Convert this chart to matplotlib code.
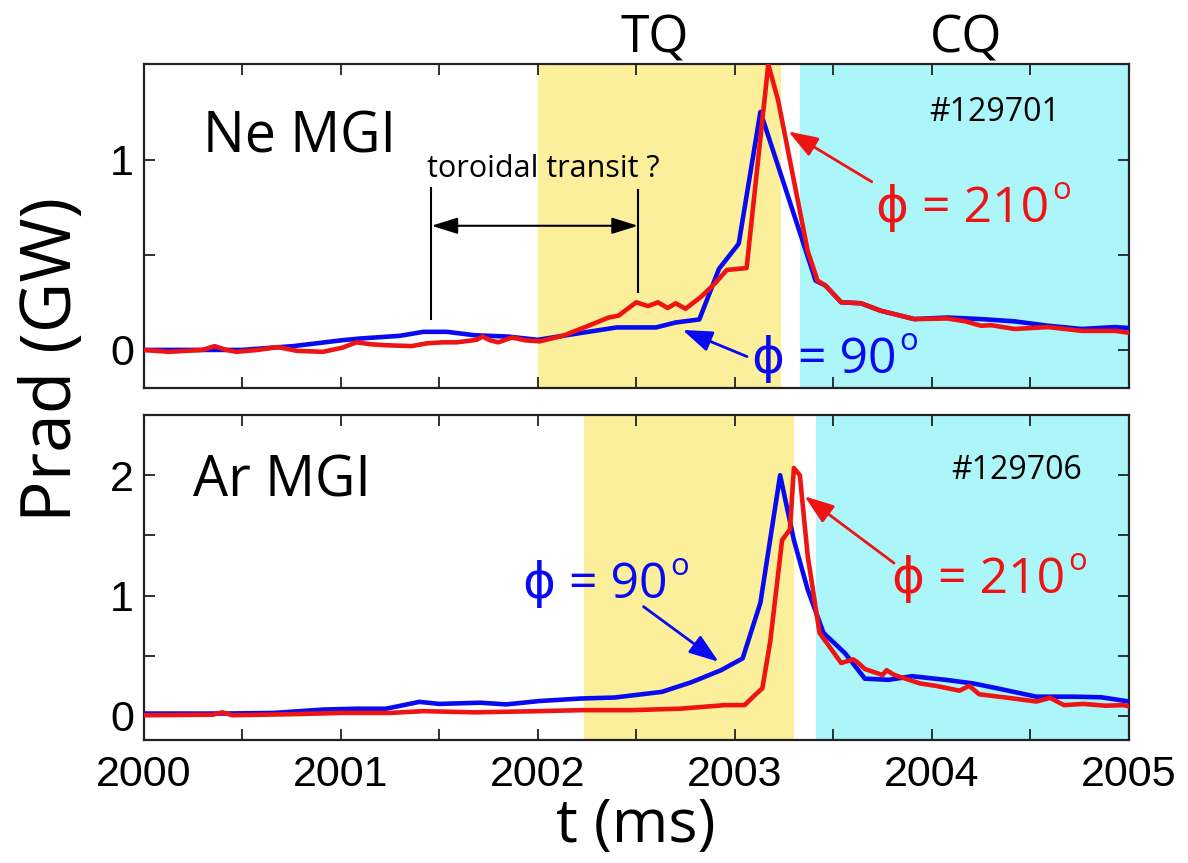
import matplotlib
matplotlib.use("Agg")
import matplotlib.pyplot as plt
import matplotlib.transforms as mtransforms
from matplotlib.ticker import MultipleLocator, FuncFormatter

# ---- data ----
# Ne MGI, shot 129701
t_ne_90 = [2000.0, 2000.3, 2000.5, 2000.76, 2001.0, 2001.1, 2001.3, 2001.42, 2001.54,
           2001.68, 2001.85, 2002.0, 2002.2, 2002.4, 2002.6, 2002.7, 2002.82, 2002.92,
           2003.02, 2003.13, 2003.41, 2003.46, 2003.54, 2003.64, 2003.74, 2003.91,
           2004.08, 2004.25, 2004.42, 2004.59, 2004.76, 2004.93, 2005.0]
p_ne_90 = [0.0, 0.0, 0.0, 0.02, 0.05, 0.06, 0.074, 0.095, 0.095,
           0.077, 0.07, 0.053, 0.086, 0.118, 0.118, 0.144, 0.16, 0.426,
           0.558, 1.25, 0.364, 0.338, 0.25, 0.245, 0.206, 0.162,
           0.17, 0.162, 0.15, 0.127, 0.11, 0.12, 0.115]

t_ne_210 = [2000.0, 2000.13, 2000.3, 2000.36, 2000.42, 2000.47, 2000.58, 2000.68, 2000.78,
            2000.91, 2001.01, 2001.08, 2001.15, 2001.22, 2001.36, 2001.44, 2001.52, 2001.59,
            2001.69, 2001.72, 2001.76, 2001.8, 2001.87, 2001.94, 2002.01, 2002.13, 2002.26,
            2002.36, 2002.41, 2002.5, 2002.56, 2002.61, 2002.66, 2002.7, 2002.75, 2002.83,
            2002.9, 2002.96, 2003.06, 2003.17, 2003.22, 2003.37, 2003.42, 2003.46, 2003.54,
            2003.64, 2003.74, 2003.91, 2004.08, 2004.17, 2004.25, 2004.3, 2004.42, 2004.59,
            2004.76, 2004.93, 2005.0]
p_ne_210 = [0.0, -0.01, 0.0, 0.02, 0.0, -0.01, 0.0, 0.015, -0.005,
            -0.01, 0.012, 0.04, 0.03, 0.025, 0.02, 0.035, 0.04, 0.04,
            0.053, 0.07, 0.05, 0.04, 0.065, 0.05, 0.045, 0.075, 0.128,
            0.17, 0.18, 0.25, 0.23, 0.25, 0.22, 0.245, 0.216, 0.28,
            0.35, 0.42, 0.43, 1.5, 1.31, 0.52, 0.364, 0.338, 0.25,
            0.245, 0.206, 0.162, 0.165, 0.15, 0.127, 0.13, 0.11, 0.12,
            0.1, 0.1, 0.09]

# Ar MGI, shot 129706
t_ar_90 = [2000.0, 2000.41, 2000.66, 2000.91, 2001.08, 2001.23, 2001.4, 2001.5, 2001.71,
           2001.84, 2002.01, 2002.22, 2002.39, 2002.63, 2002.78, 2002.93, 2003.04, 2003.13,
           2003.23, 2003.3, 2003.37, 2003.45, 2003.56, 2003.66, 2003.78, 2003.9, 2004.07,
           2004.21, 2004.33, 2004.53, 2004.72, 2004.86, 2005.0]
p_ar_90 = [0.02, 0.02, 0.025, 0.053, 0.06, 0.06, 0.117, 0.10, 0.11,
           0.096, 0.124, 0.145, 0.153, 0.2, 0.28, 0.38, 0.478, 0.94,
           2.0, 1.46, 1.05, 0.69, 0.52, 0.31, 0.3, 0.33, 0.3,
           0.27, 0.23, 0.16, 0.16, 0.155, 0.12]

t_ar_210 = [2000.0, 2000.35, 2000.4, 2000.45, 2000.74, 2001.0, 2001.25, 2001.42, 2001.68,
            2002.01, 2002.22, 2002.47, 2002.72, 2002.95, 2003.05, 2003.1, 2003.14, 2003.18,
            2003.24, 2003.28, 2003.3, 2003.33, 2003.37, 2003.43, 2003.54, 2003.6, 2003.62,
            2003.66, 2003.75, 2003.77, 2003.81, 2003.94, 2004.02, 2004.14, 2004.19, 2004.24,
            2004.39, 2004.53, 2004.6, 2004.67, 2004.77, 2004.88, 2004.97, 2005.0]
p_ar_210 = [0.006, 0.01, 0.03, 0.006, 0.014, 0.025, 0.025, 0.04, 0.03,
            0.04, 0.048, 0.048, 0.06, 0.09, 0.09, 0.17, 0.23, 0.62,
            1.46, 1.55, 2.06, 2.0, 1.33, 0.69, 0.44, 0.47, 0.45,
            0.39, 0.34, 0.38, 0.34, 0.27, 0.25, 0.21, 0.25, 0.18,
            0.15, 0.12, 0.15, 0.09, 0.1, 0.085, 0.09, 0.08]

# phase windows (ms)
tq_ne = (2002.0, 2003.235)
cq_ne = (2003.33, 2005.0)
tq_ar = (2002.234, 2003.30)
cq_ar = (2003.41, 2005.0)

BLUE = '#0a0af0'
RED = '#ee1414'
YELLOW = '#fbef9c'
CYAN = '#acf6fa'
TXT = ['Open Sans', 'DejaVu Sans']
TICKF = ['Liberation Sans', 'DejaVu Sans']

plt.rcParams['font.family'] = TXT

fig = plt.figure(figsize=(11.88, 8.63), dpi=100)
ax1 = fig.add_axes([0.1208, 0.5504, 0.8295, 0.3751])
ax2 = fig.add_axes([0.1208, 0.1425, 0.8295, 0.3766])


def style(ax, ylim):
    ax.set_xlim(2000, 2005)
    ax.set_ylim(*ylim)
    ax.xaxis.set_major_locator(MultipleLocator(0.5))
    ax.yaxis.set_major_locator(MultipleLocator(0.5))
    fmt = FuncFormatter(lambda v, p: '%d' % round(v) if abs(v - round(v)) < 1e-6 else '')
    ax.xaxis.set_major_formatter(fmt)
    ax.yaxis.set_major_formatter(fmt)
    ax.tick_params(direction='in', length=8, width=1.3, top=True, right=True,
                   labelsize=31, color='#222222')
    ax.tick_params(axis='x', pad=11)
    ax.tick_params(axis='y', pad=7)
    for lab in ax.get_xticklabels() + ax.get_yticklabels():
        lab.set_family(TICKF)
    for s in ax.spines.values():
        s.set_linewidth(1.6)
        s.set_color('#222222')


def deg_label(ax, x, y, num, color, size=36):
    t = ax.text(x, y, '\u03d5 = ' + num, color=color, fontsize=size,
                ha='left', va='baseline', family=TXT)
    ax.annotate('o', xy=(1.0, 1.0), xycoords=t, xytext=(2, 6),
                textcoords='offset points', ha='left', va='top',
                color=color, fontsize=size * 0.62, family=TXT)
    return t


def arrow(ax, tail, head, color, lw=2.0):
    ax.annotate('', xy=head, xytext=tail,
                arrowprops=dict(arrowstyle='-|>,head_length=0.9,head_width=0.32',
                                color=color, lw=lw, shrinkA=0, shrinkB=0,
                                mutation_scale=20))


# ---- top: Ne MGI ----
style(ax1, (-0.2, 1.5))
ax1.axvspan(*tq_ne, color=YELLOW, lw=0, zorder=0)
ax1.axvspan(*cq_ne, color=CYAN, lw=0, zorder=0)
ax1.plot(t_ne_90, p_ne_90, color=BLUE, lw=3.3, zorder=3)
ax1.plot(t_ne_210, p_ne_210, color=RED, lw=3.3, zorder=4)
ax1.set_xticklabels([])

ax1.text(2000.30, 1.035, 'Ne MGI', fontsize=40, ha='left', va='baseline')
ax1.text(2004.32, 1.20, '#129701', fontsize=23, ha='center', va='baseline')
ax1.text(2002.03, 0.91, 'toroidal transit ?', fontsize=22, ha='center', va='baseline')
ax1.plot([2001.461, 2001.461], [0.162, 0.851], color='k', lw=1.5, zorder=5)
ax1.plot([2002.509, 2002.509], [0.302, 0.839], color='k', lw=1.5, zorder=5)
ax1.annotate('', xy=(2001.461, 0.652), xytext=(2002.509, 0.652),
             arrowprops=dict(arrowstyle='<|-|>,head_length=0.8,head_width=0.25',
                             color='k', lw=1.5, shrinkA=0, shrinkB=0,
                             mutation_scale=20), zorder=5)
deg_label(ax1, 2003.716, 0.672, '210', RED)
deg_label(ax1, 2003.086, -0.12, '90', BLUE)
arrow(ax1, (2003.695, 0.883), (2003.272, 1.147), RED)
arrow(ax1, (2003.062, -0.035), (2002.735, 0.105), BLUE)

trans = mtransforms.blended_transform_factory(ax1.transData, ax1.transAxes)
ax1.text(2002.595, 1.035, 'TQ', transform=trans, fontsize=37, ha='center', va='baseline')
ax1.text(2004.175, 1.035, 'CQ', transform=trans, fontsize=37, ha='center', va='baseline')

# ---- bottom: Ar MGI ----
style(ax2, (-0.2, 2.5))
ax2.axvspan(*tq_ar, color=YELLOW, lw=0, zorder=0)
ax2.axvspan(*cq_ar, color=CYAN, lw=0, zorder=0)
ax2.plot(t_ar_90, p_ar_90, color=BLUE, lw=3.3, zorder=3)
ax2.plot(t_ar_210, p_ar_210, color=RED, lw=3.3, zorder=4)

ax2.text(2000.253, 1.825, 'Ar MGI', fontsize=40, ha='left', va='baseline')
ax2.text(2004.43, 1.97, '#129706', fontsize=23, ha='center', va='baseline')
deg_label(ax2, 2001.923, 0.978, '90', BLUE)
deg_label(ax2, 2003.798, 1.02, '210', RED)
arrow(ax2, (2002.537, 0.908), (2002.918, 0.45), BLUE)
arrow(ax2, (2003.808, 1.27), (2003.354, 1.825), RED)

fig.text(0.045, 0.583, 'Prad (GW)', rotation=90, fontsize=50, ha='center', va='center')
fig.text(0.5355, 0.024, 't (ms)', fontsize=44, ha='center', va='baseline')

fig.savefig('out.png', dpi=100)
